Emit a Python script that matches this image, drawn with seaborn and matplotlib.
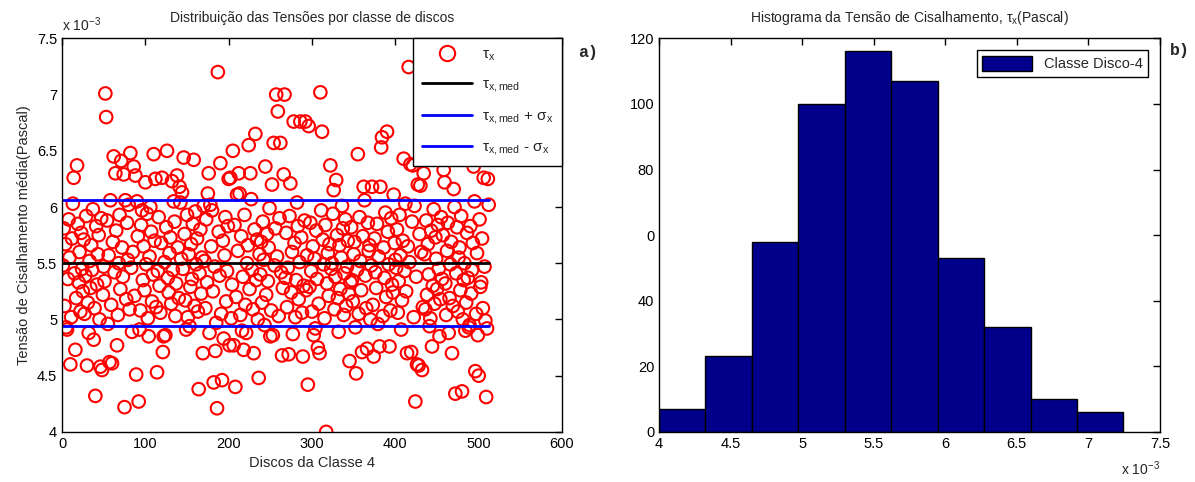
import numpy as np
import matplotlib
matplotlib.use("Agg")
import matplotlib.pyplot as plt
from matplotlib.lines import Line2D
from matplotlib.ticker import FuncFormatter, MultipleLocator
import seaborn as sns

n_discs = 512

# discos acima da faixa (indice do disco, tensao em 1e-3 Pa)
high_idx = [14, 18, 52, 53, 58, 62, 64, 71, 74, 80, 82, 86, 88, 90, 96, 100, 110, 112, 120, 126,
            132, 138, 141, 142, 144, 146, 158, 170, 175, 176, 180, 187, 190, 200, 202, 205, 210, 212, 213, 224,
            226, 232, 244, 252, 254, 257, 259, 262, 266, 267, 274, 278, 286, 292, 296, 310, 312, 322, 326, 329,
            355, 362, 372, 382, 383, 384, 390, 398, 410, 416, 418, 421, 423, 427, 430, 434, 458, 459, 470, 494,
            506, 511]
high_tau = [6.26, 6.37, 7.01, 6.80, 6.06, 6.45, 6.30, 6.41, 6.29, 6.02, 6.48, 6.36, 6.28, 6.05, 5.97, 6.22, 6.47, 6.25, 6.26, 6.50,
            6.23, 6.28, 6.18, 6.04, 6.13, 6.44, 6.42, 6.01, 6.12, 6.30, 5.97, 7.20, 6.39, 6.25, 6.26, 6.50, 6.11, 6.30, 6.12, 6.55,
            6.30, 6.65, 6.36, 6.20, 6.57, 7.00, 6.85, 6.57, 6.29, 7.00, 6.21, 6.76, 6.76, 6.76, 6.72, 7.02, 6.67, 6.37, 6.15, 6.24,
            6.47, 6.18, 6.18, 6.18, 6.53, 6.62, 6.67, 6.11, 6.43, 7.245, 6.38, 6.37, 6.01, 6.20, 6.19, 6.30, 6.33, 6.22, 6.16, 6.36,
            6.26, 6.25]

# discos abaixo da faixa
low_idx = [6, 10, 16, 30, 38, 40, 46, 48, 57, 60, 66, 75, 84, 89, 92, 104, 114, 121, 122, 149,
           164, 169, 177, 182, 184, 186, 192, 194, 201, 206, 208, 218, 221, 230, 236, 250, 253, 264, 272, 289,
           295, 302, 307, 309, 317, 345, 353, 360, 366, 374, 381, 393, 414, 419, 424, 426, 428, 432, 444, 453,
           468, 472, 480, 488, 496, 500, 508, 509]
low_tau = [4.91, 4.60, 4.73, 4.59, 4.82, 4.32, 4.58, 4.55, 4.62, 4.61, 4.77, 4.22, 4.89, 4.51, 4.27, 4.85, 4.53, 4.71, 4.85, 4.91,
           4.38, 4.70, 4.88, 4.44, 4.72, 4.21, 4.46, 4.83, 4.77, 4.77, 4.40, 4.73, 4.88, 4.70, 4.48, 4.85, 4.86, 4.68, 4.69, 4.67,
           4.42, 4.86, 4.75, 4.70, 4.00, 4.63, 4.52, 4.71, 4.74, 4.67, 4.76, 4.76, 4.70, 4.71, 4.27, 4.60, 4.59, 4.55, 4.76, 4.85,
           4.70, 4.34, 4.36, 4.93, 4.54, 4.50, 4.99, 4.31]

# demais discos (faixa densa), na ordem dos indices livres
band_tau = [
    5.48, 5.81, 5.12, 5.67, 4.93, 5.36, 5.89, 5.55, 5.02, 5.72, 6.03, 5.41, 5.19, 5.85, 5.33, 5.60, 5.07, 5.77, 5.45, 5.25,
    5.71, 5.05, 5.39, 5.92, 5.15, 4.88, 5.52, 5.28, 5.66, 5.44, 5.98, 5.10, 5.83, 5.31, 5.58, 5.75, 5.00, 5.90, 5.22, 5.47,
    5.34, 5.88, 4.96, 5.57, 5.13, 5.69, 5.42, 5.79, 5.04, 5.50, 5.93, 5.27, 5.64, 5.38, 6.06, 5.18, 5.86, 5.53, 5.09, 5.46,
    5.60, 5.21, 5.74, 4.91, 5.08, 5.84, 5.35, 5.65, 5.26, 5.49, 5.94, 5.01, 5.56, 6.00, 5.78, 5.16, 5.40, 5.70, 5.11, 5.43,
    5.91, 5.30, 5.06, 5.68, 5.51, 4.86, 5.82, 5.37, 5.24, 5.59, 5.73, 5.14, 5.44, 6.05, 5.87, 5.03, 5.32, 5.64, 5.19, 5.54,
    5.45, 5.76, 5.17, 5.93, 5.02, 5.58, 4.94, 5.29, 5.67, 5.36, 5.85, 5.12, 5.96, 5.49, 5.72, 5.07, 5.41, 5.80, 5.23, 5.55,
    5.52, 5.10, 5.89, 5.33, 6.02, 5.65, 5.25, 5.47, 4.97, 5.78, 5.39, 5.05, 5.70, 5.57, 5.91, 5.16, 5.43, 5.83, 5.01, 5.31,
    5.84, 5.20, 5.61, 5.04, 5.74, 4.90, 5.38, 5.93, 5.13, 5.50, 5.66, 5.27, 6.07, 5.44, 5.09, 5.80, 5.35, 5.71, 5.00, 5.58,
    5.40, 5.69, 5.15, 5.87, 5.53, 4.95, 5.22, 5.76, 5.34, 5.64, 5.99, 5.08, 5.48, 5.81, 5.56, 5.03, 5.90, 5.42, 5.28, 5.37,
    5.77, 5.11, 5.46, 5.92, 5.24, 5.60, 4.87, 5.68, 5.02, 5.35, 6.04, 5.83, 5.18, 5.51, 5.73, 5.06, 5.30, 5.88, 5.26, 5.57,
    5.29, 5.86, 5.43, 5.07, 5.65, 5.54, 4.92, 5.79, 5.36, 5.14, 5.97, 5.71, 5.49, 5.01, 5.84, 5.32, 5.59, 5.21, 5.67, 5.45,
    5.50, 5.94, 5.09, 5.38, 5.75, 5.19, 4.89, 5.66, 5.27, 5.55, 6.01, 5.81, 5.04, 5.41, 5.89, 5.12, 5.47, 5.70, 5.23, 5.33,
    5.82, 5.35, 5.16, 5.58, 5.69, 4.93, 5.44, 5.05, 5.91, 5.52, 5.26, 5.74, 6.06, 5.39, 5.10, 5.86, 5.61, 5.66, 5.00, 5.48,
    5.13, 5.72, 5.42, 5.28, 5.85, 4.96, 5.56, 5.03, 5.64, 5.37, 5.95, 5.20, 5.78, 5.49, 5.08, 5.90, 5.31, 5.24, 5.68, 5.53,
    5.46, 5.80, 5.06, 5.34, 5.93, 5.57, 4.91, 5.17, 5.70, 5.43, 6.03, 5.25, 5.65, 5.51, 5.87, 5.02, 5.38, 5.76, 5.60, 5.11,
    5.58, 5.09, 5.88, 5.22, 5.67, 5.40, 4.94, 5.01, 5.79, 5.30, 5.98, 5.14, 5.73, 5.54, 5.27, 5.84, 5.45, 5.18, 5.91, 5.36,
    5.75, 5.32, 5.04, 5.61, 5.86, 4.88, 5.19, 5.49, 5.69, 5.12, 6.00, 5.41, 5.82, 5.07, 5.55, 5.64, 5.26, 5.92, 5.00, 5.35,
    5.50, 4.90, 5.15, 5.77, 5.37, 4.95, 5.83, 5.23, 5.44, 5.68, 6.05, 5.05, 5.59, 4.86, 5.89, 5.29, 5.33, 5.72, 5.10, 5.47,
    4.92, 6.02,
]

disc = np.arange(1, n_discs + 1)
tau = np.full(n_discs, np.nan)
tau[np.array(high_idx) - 1] = high_tau
tau[np.array(low_idx) - 1] = low_tau
free = np.isnan(tau)
assert free.sum() == len(band_tau), (free.sum(), len(band_tau))
tau[free] = band_tau
tau = tau * 1e-3

tau_med = tau.mean()
sigma = tau.std(ddof=1)

sns.set_style("white")
plt.rcParams["font.family"] = ["Liberation Sans", "DejaVu Sans"]
plt.rcParams["mathtext.fontset"] = "custom"
plt.rcParams["mathtext.rm"] = "Liberation Sans"
plt.rcParams["mathtext.it"] = "Liberation Sans"
plt.rcParams["font.size"] = 10

fig = plt.figure(figsize=(11.95, 4.82), dpi=100)
ax1 = fig.add_axes([0.0519, 0.104, 0.4184, 0.8164])
ax2 = fig.add_axes([0.5515, 0.104, 0.4192, 0.8164])

milli = FuncFormatter(lambda v, p: f"{v * 1e3:g}")

# a) dispersao por disco
sns.scatterplot(x=disc, y=tau, ax=ax1, marker="o", s=82, facecolor="none",
                edgecolor="red", linewidth=1.5, legend=False)
ax1.plot(disc[[0, -1]], [tau_med, tau_med], color="black", lw=2)
ax1.plot(disc[[0, -1]], [tau_med + sigma] * 2, color="blue", lw=2)
ax1.plot(disc[[0, -1]], [tau_med - sigma] * 2, color="blue", lw=2)
ax1.set_xlim(0, 600)
ax1.set_ylim(4e-3, 7.5e-3)
ax1.xaxis.set_major_locator(MultipleLocator(100))
ax1.yaxis.set_major_locator(MultipleLocator(0.5e-3))
ax1.yaxis.set_major_formatter(milli)
ax1.set_title("Distribuição das Tensões por classe de discos", fontsize=10, pad=12)
ax1.set_xlabel("Discos da Classe 4", fontsize=10.5)
ax1.set_ylabel("Tensão de Cisalhamento média(Pascal)", fontsize=10.5)
ax1.text(0, 1.012, r"x 10$^{-3}$", transform=ax1.transAxes, ha="left", va="bottom", fontsize=10)

handles = [
    Line2D([], [], ls="none", marker="o", ms=11, mfc="none", mec="red", mew=1.5),
    Line2D([], [], color="black", lw=2),
    Line2D([], [], color="blue", lw=2),
    Line2D([], [], color="blue", lw=2),
]
labels = [r"$\tau_x$", r"$\tau_{x,med}$", r"$\tau_{x,med}$ + $\sigma_x$", r"$\tau_{x,med}$ - $\sigma_x$"]
leg1 = ax1.legend(handles, labels, loc="upper right", borderaxespad=0, fancybox=False,
                  edgecolor="black", framealpha=1, handlelength=3.3, labelspacing=0.95,
                  fontsize=11, borderpad=0.6, handletextpad=0.6)
leg1.get_frame().set_linewidth(1.0)

# b) histograma
sns.histplot(x=tau, bins=10, ax=ax2, color="#00008B", edgecolor="black", linewidth=1,
             alpha=1, label="Classe Disco-4")
ax2.set_xlim(4e-3, 7.5e-3)
ax2.set_ylim(0, 120)
ax2.xaxis.set_major_locator(MultipleLocator(0.5e-3))
ax2.xaxis.set_major_formatter(milli)
ax2.set_yticks(range(0, 121, 20))
ax2.set_yticklabels(["0", "20", "40", "0", "80", "100", "120"])
ax2.set_ylabel("")
ax2.set_xlabel("")
ax2.set_title(r"Histograma da Tensão de Cisalhamento, $\tau_x$(Pascal)", fontsize=10, pad=12)
ax2.text(1, -0.07, r"x 10$^{-3}$", transform=ax2.transAxes, ha="right", va="top", fontsize=10)
leg2 = ax2.legend(loc="upper right", fancybox=False, edgecolor="black", framealpha=1,
                  handlelength=3.4, handleheight=1.2, fontsize=10.5, borderaxespad=0.8)
leg2.get_frame().set_linewidth(1.0)

for ax in (ax1, ax2):
    ax.tick_params(direction="in", top=True, right=True, length=5, width=1,
                   labelsize=10.5, colors="black")
    for sp in ax.spines.values():
        sp.set_visible(True)
        sp.set_color("black")
        sp.set_linewidth(1)

fig.text(0.4837, 0.892, "a)", fontsize=12, fontweight="bold",
         family=["Liberation Mono", "DejaVu Sans Mono"], ha="left", va="center")
fig.text(0.979, 0.896, "b)", fontsize=12, fontweight="bold",
         family=["Liberation Mono", "DejaVu Sans Mono"], ha="left", va="center")

fig.savefig("out.png", dpi=100)
